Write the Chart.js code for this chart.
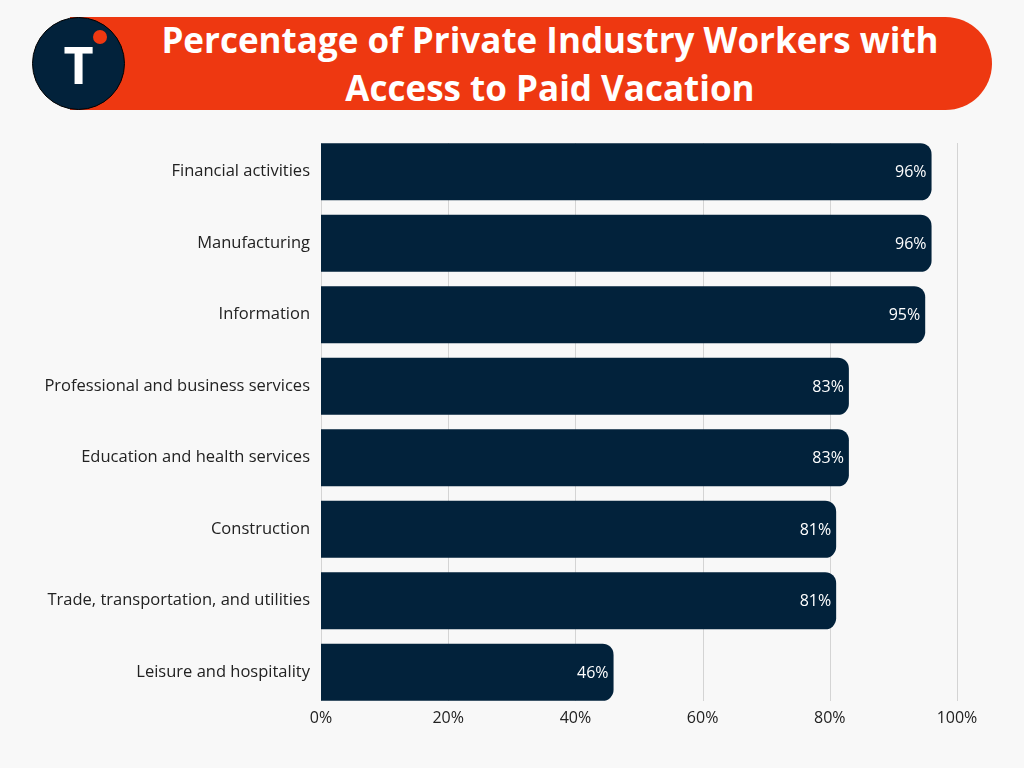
<!DOCTYPE html>
<html>
<head>
<meta charset="utf-8">
<script src="https://cdn.jsdelivr.net/npm/chart.js@4/dist/chart.umd.min.js"></script>
<style>
  html, body { margin: 0; padding: 0; background: #f8f8f8; }
  #wrap { position: relative; width: 1024px; height: 768px; overflow: hidden; }
  #banner {
    position: absolute; left: 70px; top: 17px; width: 922px; height: 93px;
    background: #ee3811; border-radius: 0 47px 47px 0;
  }
  #title {
    position: absolute; left: 100px; top: 16px; width: 900px; height: 93px;
    color: #fff; font-family: "Open Sans", sans-serif; font-weight: 700;
    font-size: 35px; line-height: 48px; text-align: center;
  }
  #logo {
    position: absolute; left: 32px; top: 17px; width: 93px; height: 93px;
    border-radius: 50%; background: #02223b; border: 1.5px solid #000; box-sizing: border-box;
    color: #fff; font-family: "Open Sans", sans-serif; font-weight: 700; font-size: 52px;
    text-align: center; line-height: 92px;
  }
  #dot {
    position: absolute; left: 93px; top: 30px; width: 14px; height: 14px;
    border-radius: 50%; background: #ee3811;
  }
  #chart { position: absolute; left: 0; top: 0; }
</style>
</head>
<body>
<div id="wrap">
  <div id="banner"></div>
  <div id="title">Percentage of Private Industry Workers with<br>Access to Paid Vacation</div>
  <div id="logo">T</div>
  <div id="dot"></div>
  <canvas id="chart" width="1024" height="768"></canvas>
</div>
<script>
const industries = [
  'Financial activities',
  'Manufacturing',
  'Information',
  'Professional and business services',
  'Education and health services',
  'Construction',
  'Trade, transportation, and utilities',
  'Leisure and hospitality'
];
const paidVacation = [96, 96, 95, 83, 83, 81, 81, 46];
const xTicks = [0, 20, 40, 60, 80, 100];

// vertical grid lines, a little shorter than the chart area
const gridLines = {
  id: 'gridLines',
  beforeDatasetsDraw(chart) {
    const ctx = chart.ctx;
    const area = chart.chartArea;
    const x = chart.scales.x;
    ctx.save();
    ctx.strokeStyle = '#d4d4d4';
    ctx.lineWidth = 1;
    xTicks.forEach(function (v) {
      const px = Math.round(x.getPixelForValue(v)) + 0.5;
      ctx.beginPath();
      ctx.moveTo(px, area.top + 7);
      ctx.lineTo(px, area.bottom - 7);
      ctx.stroke();
    });
    ctx.restore();
  }
};

// draw the value inside the end of each bar
const valueLabels = {
  id: 'valueLabels',
  afterDatasetsDraw(chart) {
    const ctx = chart.ctx;
    const meta = chart.getDatasetMeta(0);
    ctx.save();
    ctx.fillStyle = '#ffffff';
    ctx.font = '16px "Open Sans", sans-serif';
    ctx.textAlign = 'right';
    ctx.textBaseline = 'middle';
    meta.data.forEach(function (bar, i) {
      ctx.fillText(paidVacation[i] + '%', bar.x - 5, bar.y + 1);
    });
    ctx.restore();
  }
};

const ctx = document.getElementById('chart');
new Chart(ctx.getContext('2d'), {
  type: 'bar',
  data: {
    labels: industries,
    datasets: [{
      data: paidVacation,
      backgroundColor: '#02223b',
      borderRadius: 11,
      borderSkipped: 'start',
      barPercentage: 0.8,
      categoryPercentage: 1
    }]
  },
  options: {
    indexAxis: 'y',
    responsive: false,
    animation: false,
    layout: { padding: { top: 136, right: 67, left: 0, bottom: 0 } },
    plugins: { legend: { display: false }, tooltip: { enabled: false } },
    scales: {
      x: {
        min: 0, max: 100,
        afterBuildTicks(scale) { scale.ticks = xTicks.map(v => ({ value: v })); },
        grid: { display: false },
        border: { display: false },
        ticks: {
          padding: -7,
          color: '#222',
          font: { family: '"Open Sans", sans-serif', size: 16 },
          callback: v => v + '%'
        },
        afterFit(scale) { scale.height = 60; }
      },
      y: {
        grid: { display: false },
        border: { display: false },
        ticks: {
          padding: 3,
          color: '#222',
          font: { family: '"Open Sans", sans-serif', size: 16.5 }
        },
        afterFit(scale) { scale.width = 321; }
      }
    }
  },
  plugins: [gridLines, valueLabels]
});
</script>
</body>
</html>
